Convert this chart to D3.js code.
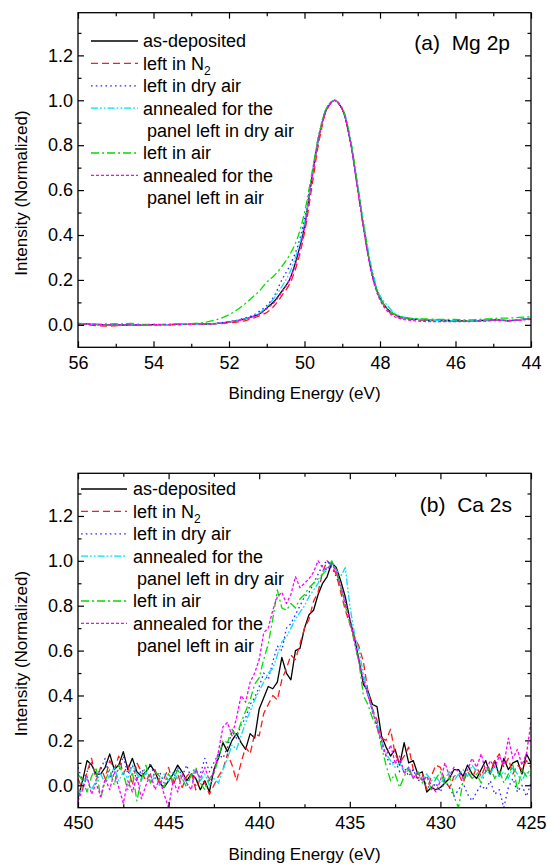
<!DOCTYPE html>
<html>
<head>
<meta charset="utf-8">
<script src="https://cdn.jsdelivr.net/npm/d3@7"></script>
<style>
  html, body { margin: 0; padding: 0; background: #fff; }
  svg { display: block; }
  text { font-family: "Liberation Sans", Arial, Helvetica, sans-serif; fill: #000; }
</style>
</head>
<body>
<svg id="chart" width="547" height="865"></svg>
<script>
// ---------------- DATA ----------------
const seriesNames = ["as-deposited", "left in N2", "left in dry air",
  "annealed for the panel left in dry air", "left in air", "annealed for the panel left in air"];

const mgEnergy = [56,55.8,55.6,55.4,55.2,55,54.8,54.6,54.4,54.2,54,53.8,53.6,53.4,53.2,53,52.8,52.6,52.4,52.2,
  52,51.8,51.6,51.4,51.2,51,50.8,50.6,50.4,50.2,50,49.8,49.6,49.4,49.2,49,48.8,48.6,48.4,48.2,
  48,47.8,47.6,47.4,47.2,47,46.8,46.6,46.4,46.2,46,45.8,45.6,45.4,45.2,45,44.8,44.6,44.4,44.2,44];

const mgAsDeposited = [0.005,0.004,0.002,0.001,0.000,0.000,0.000,0.000,0.000,0.000,
  0.001,0.001,0.001,0.002,0.002,0.002,0.003,0.003,0.005,0.008,
  0.013,0.018,0.025,0.035,0.048,0.075,0.105,0.15,0.20,0.30,
  0.44,0.66,0.85,0.965,1.00,0.96,0.83,0.62,0.40,0.22,
  0.12,0.07,0.045,0.033,0.027,0.024,0.022,0.020,0.020,0.019,
  0.018,0.018,0.018,0.019,0.020,0.022,0.021,0.018,0.021,0.025,0.028];
const mgN2 = [0.003,0.001,-0.002,-0.005,-0.006,-0.004,-0.002,-0.001,0.000,0.000,
  0.000,0.001,0.001,0.001,0.002,0.002,0.002,0.003,0.004,0.006,
  0.009,0.012,0.018,0.028,0.040,0.055,0.085,0.13,0.18,0.27,
  0.41,0.62,0.83,0.96,1.00,0.96,0.83,0.62,0.40,0.22,
  0.12,0.065,0.04,0.03,0.025,0.022,0.020,0.019,0.018,0.018,
  0.017,0.017,0.018,0.018,0.019,0.021,0.020,0.019,0.021,0.024,0.027];
const mgDryAir = [0.004,0.003,0.002,0.000,0.000,0.000,-0.001,0.000,0.000,0.000,
  0.000,0.000,0.001,0.001,0.002,0.002,0.003,0.004,0.006,0.010,
  0.015,0.020,0.030,0.040,0.060,0.085,0.13,0.20,0.26,0.34,
  0.47,0.67,0.86,0.97,1.00,0.96,0.83,0.62,0.40,0.22,
  0.12,0.07,0.045,0.033,0.027,0.024,0.022,0.020,0.020,0.019,
  0.018,0.018,0.019,0.019,0.020,0.022,0.021,0.019,0.021,0.025,0.028];
const mgAnnealedDry = [0.006,0.004,0.002,0.001,0.000,0.000,0.000,0.000,0.001,0.000,
  0.000,0.000,0.001,0.001,0.002,0.002,0.002,0.003,0.005,0.008,
  0.013,0.018,0.026,0.036,0.052,0.08,0.12,0.17,0.23,0.32,
  0.45,0.66,0.85,0.97,1.00,0.965,0.84,0.63,0.42,0.24,
  0.13,0.085,0.05,0.035,0.028,0.025,0.022,0.020,0.020,0.019,
  0.018,0.018,0.019,0.020,0.021,0.022,0.022,0.021,0.022,0.025,0.028];
const mgAir = [0.006,0.004,0.003,0.003,0.004,0.005,0.004,0.006,0.003,0.002,
  0.003,0.002,0.003,0.004,0.004,0.005,0.008,0.012,0.020,0.030,
  0.045,0.065,0.09,0.12,0.15,0.19,0.22,0.26,0.31,0.38,
  0.50,0.68,0.86,0.97,1.00,0.965,0.84,0.63,0.41,0.22,
  0.12,0.07,0.045,0.035,0.030,0.028,0.026,0.025,0.024,0.024,
  0.024,0.022,0.022,0.024,0.026,0.028,0.030,0.030,0.032,0.034,0.036];
const mgAnnealedAir = [0.004,0.003,0.002,0.001,0.000,0.000,0.000,0.000,0.000,0.000,
  0.001,0.001,0.001,0.002,0.002,0.002,0.003,0.004,0.005,0.008,
  0.013,0.017,0.024,0.034,0.047,0.072,0.10,0.145,0.20,0.29,
  0.43,0.65,0.85,0.965,1.00,0.96,0.83,0.61,0.39,0.21,
  0.11,0.06,0.035,0.025,0.020,0.017,0.015,0.014,0.014,0.014,
  0.014,0.014,0.015,0.016,0.017,0.019,0.019,0.018,0.020,0.022,0.025];

const caEnergy = [450,449.75,449.5,449.25,449,448.75,448.5,448.25,448,447.75,
  447.5,447.25,447,446.75,446.5,446.25,446,445.75,445.5,445.25,
  445,444.75,444.5,444.25,444,443.75,443.5,443.25,443,442.75,
  442.5,442.25,442,441.75,441.5,441.25,441,440.75,440.5,440.25,
  440,439.75,439.5,439.25,439,438.75,438.5,438.25,438,437.75,
  437.5,437.25,437,436.75,436.5,436.25,436,435.75,435.5,435.25,
  435,434.75,434.5,434.25,434,433.75,433.5,433.25,433,432.75,
  432.5,432.25,432,431.75,431.5,431.25,431,430.75,430.5,430.25,
  430,429.75,429.5,429.25,429,428.75,428.5,428.25,428,427.75,
  427.5,427.25,427,426.75,426.5,426.25,426,425.75,425.5,425.25,425];

const caAsDeposited = [-0.06,0.02,0.11,0.09,0.05,0.05,0.08,0.14,0.07,0.09,
  0.15,0.07,0.12,0.06,0.04,0.06,0.09,0.06,0.01,-0.01,
  0.02,0.05,0.09,0.06,0.02,0.05,0.03,-0.02,0.02,-0.03,
  0.07,0.12,0.19,0.15,0.20,0.23,0.19,0.16,0.23,0.21,
  0.34,0.39,0.44,0.43,0.46,0.57,0.50,0.47,0.60,0.61,
  0.70,0.76,0.78,0.85,0.90,0.93,0.99,0.97,0.91,0.84,
  0.74,0.66,0.56,0.45,0.42,0.36,0.35,0.22,0.17,0.13,
  0.16,0.09,0.19,0.10,0.11,0.05,0.06,-0.03,-0.01,-0.02,
  -0.01,0.01,0.03,0.07,0.07,0.04,0.09,0.05,0.03,0.07,
  0.11,0.05,0.11,0.04,0.12,0.07,0.10,0.11,0.05,0.14,0.10];
const caN2 = [0.03,-0.02,0.06,0.12,0.02,0.08,0.03,0.11,0.07,0.13,
  0.05,0.09,0.00,0.10,0.06,0.02,0.05,0.07,0.01,0.03,
  0.08,0.00,0.05,-0.01,0.04,0.06,-0.02,0.03,0.01,-0.04,
  0.00,0.04,0.07,0.14,0.09,0.02,0.10,0.17,0.14,0.23,
  0.22,0.32,0.36,0.40,0.38,0.47,0.52,0.58,0.56,0.63,
  0.70,0.74,0.82,0.86,0.95,1.00,0.98,0.94,0.86,0.78,
  0.72,0.66,0.62,0.55,0.42,0.34,0.29,0.21,0.20,0.25,
  0.14,0.10,0.13,0.17,0.07,0.03,0.05,-0.02,0.04,0.09,
  0.08,0.02,-0.01,0.04,0.05,0.01,0.06,0.03,0.08,0.04,
  0.09,0.06,0.11,0.14,0.08,0.12,0.05,0.09,0.07,0.11,0.08];
const caDryAir = [0.08,0.02,0.06,0.10,0.04,0.07,0.12,0.03,0.08,0.06,
  0.13,0.05,0.09,0.02,0.07,0.05,0.10,0.03,0.06,0.01,
  0.05,0.02,0.08,0.04,0.09,0.03,0.00,0.05,0.12,0.06,
  0.10,0.14,0.12,0.17,0.24,0.21,0.27,0.30,0.36,0.39,
  0.44,0.50,0.47,0.55,0.62,0.60,0.70,0.72,0.76,0.80,
  0.84,0.86,0.90,0.94,0.98,1.00,0.97,0.93,0.88,0.82,
  0.73,0.64,0.56,0.47,0.40,0.34,0.27,0.18,0.13,0.09,
  0.11,0.06,0.08,0.04,0.07,0.02,0.03,0.00,-0.02,0.01,
  -0.03,0.02,-0.01,-0.05,-0.02,0.01,-0.04,-0.07,-0.03,0.00,
  -0.02,0.02,-0.04,-0.02,-0.10,-0.01,0.03,-0.03,0.00,-0.05,0.01];
const caAnnealedDry = [-0.05,0.01,0.03,-0.02,0.02,0.05,0.01,0.04,0.08,0.02,
  0.06,0.03,0.09,0.05,0.02,0.06,0.01,0.04,0.00,0.05,
  0.02,0.06,0.03,0.05,0.01,0.04,0.07,0.02,0.05,0.00,
  0.03,0.01,0.07,0.12,0.18,0.16,0.22,0.28,0.33,0.38,
  0.42,0.46,0.50,0.52,0.58,0.64,0.66,0.70,0.74,0.77,
  0.80,0.84,0.87,0.90,0.95,0.97,0.99,0.96,0.93,0.97,
  0.80,0.68,0.60,0.50,0.41,0.33,0.28,0.20,0.14,0.11,
  0.08,0.10,0.06,0.08,0.04,0.06,0.03,0.05,0.02,0.04,
  0.01,0.03,0.06,0.02,0.05,0.07,0.04,0.09,0.06,0.03,
  0.07,0.05,0.09,0.04,0.06,0.03,0.08,0.05,0.02,0.06,0.04];
const caAir = [0.05,0.02,-0.03,0.04,0.08,-0.06,0.02,0.07,0.00,0.09,
  0.05,-0.02,0.06,-0.07,0.03,0.09,0.01,0.06,0.04,-0.01,
  0.05,0.02,0.07,0.03,-0.01,0.05,0.08,0.01,-0.02,0.03,
  0.05,0.12,0.20,0.19,0.25,0.22,0.28,0.33,0.38,0.45,
  0.48,0.56,0.63,0.74,0.87,0.79,0.78,0.81,0.79,0.83,
  0.85,0.88,0.90,0.92,0.94,0.96,1.00,0.96,0.88,0.80,
  0.72,0.64,0.55,0.40,0.36,0.30,0.26,0.17,0.09,0.02,
  0.05,-0.01,0.04,0.07,0.03,0.06,0.01,0.04,-0.02,0.03,
  0.06,0.00,0.04,-0.05,-0.10,0.02,0.07,0.03,0.05,0.01,
  0.06,0.08,0.03,0.07,0.01,0.05,0.09,-0.02,0.07,0.04,0.08];
const caAnnealedAir = [-0.07,-0.02,0.04,-0.04,0.01,-0.05,0.03,-0.02,0.06,-0.01,
  -0.08,0.02,-0.03,0.04,-0.06,0.00,0.05,-0.02,0.03,-0.04,
  -0.10,0.02,-0.03,0.05,0.01,-0.02,0.07,0.03,0.08,0.02,
  0.06,0.15,0.26,0.28,0.22,0.30,0.40,0.37,0.46,0.50,
  0.56,0.68,0.70,0.78,0.84,0.86,0.81,0.85,0.93,0.88,
  0.90,0.92,0.95,1.00,0.97,0.96,0.99,0.95,0.89,0.81,
  0.74,0.65,0.55,0.47,0.40,0.33,0.26,0.20,0.13,0.18,
  0.10,0.13,0.05,0.08,0.03,0.06,0.02,0.04,0.00,-0.03,
  0.02,0.10,0.04,0.08,0.06,0.03,0.07,0.12,0.08,0.14,
  0.06,0.11,0.08,0.13,0.09,0.21,0.12,0.16,0.09,0.14,0.28];

const mgXTicks = [56, 54, 52, 50, 48, 46, 44];
const mgXMinor = [55, 53, 51, 49, 47, 45];
const caXTicks = [450, 445, 440, 435, 430, 425];
const caXMinor = [447.5, 442.5, 437.5, 432.5, 427.5];
const yTicks = [0.0, 0.2, 0.4, 0.6, 0.8, 1.0, 1.2];
const yMinor = [0.1, 0.3, 0.5, 0.7, 0.9, 1.1, 1.3];
const legendLabels = [["as-deposited"], ["left in N", "2"], ["left in dry air"],
  ["annealed for the", "panel left in dry air"], ["left in air"],
  ["annealed for the", "panel left in air"]];

// ---------------- STYLE ----------------
const styles = [
  { color: "#000000", dash: null },
  { color: "#ff1a1a", dash: "7,4" },
  { color: "#2a2aff", dash: "1.6,3.2" },
  { color: "#00e0f0", dash: "7,2,1.8,2,1.8,2" },
  { color: "#00dd00", dash: "8,3,2,3" },
  { color: "#ff00ff", dash: "3,2" }
];
const FONT = "'Liberation Sans', Arial, Helvetica, sans-serif";
const svg = d3.select("#chart");
const L = 78, R = 531;

function drawPanel(cfg) {
  const x = d3.scaleLinear().domain(cfg.xDomain).range([L, R]);
  const y = d3.scaleLinear().domain([-0.1, 1.39]).range([cfg.bottom, cfg.top]);
  const g = svg.append("g");

  const clipId = "clip" + cfg.id;
  svg.append("clipPath").attr("id", clipId).append("rect")
    .attr("x", L).attr("y", cfg.top).attr("width", R - L).attr("height", cfg.bottom - cfg.top);

  // data lines
  const line = d3.line().x(d => x(d[0])).y(d => y(d[1])).curve(cfg.curve);
  const lg = g.append("g").attr("clip-path", `url(#${clipId})`);
  cfg.series.forEach((vals, i) => {
    const pts = cfg.energy.map((e, k) => [e, vals[k]]);
    lg.append("path").datum(pts)
      .attr("d", line)
      .attr("fill", "none")
      .attr("stroke", styles[i].color)
      .attr("stroke-width", 1.3)
      .attr("stroke-dasharray", styles[i].dash)
      .attr("stroke-linejoin", "round");
  });

  // axes
  function styleAxis(sel) {
    sel.select(".domain").remove();
    sel.selectAll("line").attr("stroke", "#000").attr("stroke-width", 1.2);
    sel.attr("font-family", FONT).attr("font-size", 18);
    sel.selectAll("text").attr("fill", "#000");
  }
  g.append("g").attr("transform", `translate(0,${cfg.bottom})`)
    .call(d3.axisBottom(x).tickValues(cfg.xTicks).tickSize(-6).tickPadding(9).tickFormat(d3.format("d")))
    .call(styleAxis);
  g.append("g").attr("transform", `translate(0,${cfg.bottom})`)
    .call(d3.axisBottom(x).tickValues(cfg.xMinor).tickSize(-3.5).tickFormat(""))
    .call(styleAxis);
  g.append("g").attr("transform", `translate(0,${cfg.top})`)
    .call(d3.axisTop(x).tickValues(cfg.xTicks).tickSize(-6).tickFormat(""))
    .call(styleAxis);
  g.append("g").attr("transform", `translate(0,${cfg.top})`)
    .call(d3.axisTop(x).tickValues(cfg.xMinor).tickSize(-3.5).tickFormat(""))
    .call(styleAxis);
  g.append("g").attr("transform", `translate(${L},0)`)
    .call(d3.axisLeft(y).tickValues(yTicks).tickSize(-6).tickPadding(5).tickFormat(d3.format(".1f")))
    .call(styleAxis);
  g.append("g").attr("transform", `translate(${L},0)`)
    .call(d3.axisLeft(y).tickValues(yMinor).tickSize(-3.5).tickFormat(""))
    .call(styleAxis);
  g.append("g").attr("transform", `translate(${R},0)`)
    .call(d3.axisRight(y).tickValues(yTicks).tickSize(-6).tickFormat(""))
    .call(styleAxis);
  g.append("g").attr("transform", `translate(${R},0)`)
    .call(d3.axisRight(y).tickValues(yMinor).tickSize(-3.5).tickFormat(""))
    .call(styleAxis);

  // frame
  g.append("rect").attr("x", L).attr("y", cfg.top).attr("width", R - L).attr("height", cfg.bottom - cfg.top)
    .attr("fill", "none").attr("stroke", "#000").attr("stroke-width", 1.3);

  // axis titles
  g.append("text").attr("x", (L + R) / 2).attr("y", cfg.bottom + 52)
    .attr("text-anchor", "middle").attr("font-size", 17).attr("font-family", FONT)
    .text("Binding Energy (eV)");
  g.append("text")
    .attr("transform", `translate(21,${(cfg.top + cfg.bottom) / 2 + 13}) rotate(-90)`)
    .attr("text-anchor", "middle").attr("dy", "0.35em").attr("font-size", 17).attr("font-family", FONT)
    .text("Intensity (Normalized)");

  // panel label
  g.append("text").attr("x", cfg.labelX).attr("y", cfg.labelY)
    .attr("text-anchor", "end").attr("font-size", 21).attr("font-family", FONT)
    .style("white-space", "pre").text(cfg.label);

  // legend
  const rowStep = 22.4;
  let row = 0;
  legendLabels.forEach((lab, i) => {
    const cy = cfg.legY + row * rowStep;
    g.append("line").attr("x1", cfg.legX1).attr("x2", cfg.legX2).attr("y1", cy).attr("y2", cy)
      .attr("stroke", styles[i].color).attr("stroke-width", 1.3)
      .attr("stroke-dasharray", styles[i].dash);
    const t = g.append("text").attr("x", cfg.legText).attr("y", cy).attr("dy", "0.35em")
      .attr("font-size", 18).attr("font-family", FONT);
    if (i === 1) {
      t.text(lab[0]);
      t.append("tspan").attr("font-size", 12).attr("dy", 5).text(lab[1]);
      row += 1;
    } else if (lab.length === 2) {
      t.text(lab[0]);
      g.append("text").attr("x", cfg.legText + 4).attr("y", cy + rowStep).attr("dy", "0.35em")
        .attr("font-size", 18).attr("font-family", FONT).text(lab[1]);
      row += 2;
    } else {
      t.text(lab[0]);
      row += 1;
    }
  });
}

drawPanel({
  id: "a", top: 12.7, bottom: 347.3, xDomain: [56, 44],
  energy: mgEnergy,
  series: [mgAsDeposited, mgN2, mgDryAir, mgAnnealedDry, mgAir, mgAnnealedAir],
  curve: d3.curveCatmullRom.alpha(0.5),
  xTicks: mgXTicks, xMinor: mgXMinor,
  label: "(a)  Mg 2p", labelX: 510, labelY: 50,
  legY: 41, legX1: 91, legX2: 138, legText: 143
});

drawPanel({
  id: "b", top: 473.3, bottom: 807.7, xDomain: [450, 425],
  energy: caEnergy,
  series: [caAsDeposited, caN2, caDryAir, caAnnealedDry, caAir, caAnnealedAir],
  curve: d3.curveLinear,
  xTicks: caXTicks, xMinor: caXMinor,
  label: "(b)  Ca 2s", labelX: 512, labelY: 512,
  legY: 489, legX1: 81, legX2: 127, legText: 133
});
</script>
</body>
</html>
